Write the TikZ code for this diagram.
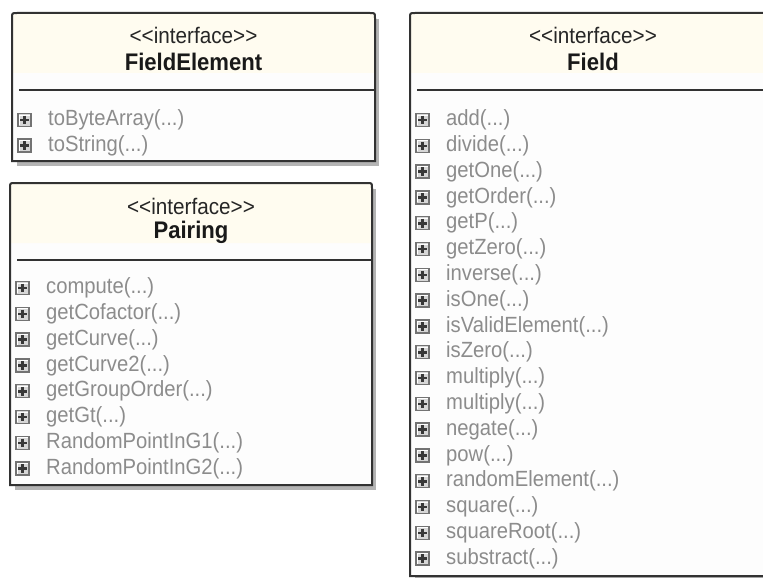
\documentclass[tikz,border=0pt]{standalone}
\usepackage{fontspec}
\newfontfamily\umlfont[FakeStretch=0.92]{Liberation Sans}
\definecolor{cream}{RGB}{255,252,240}
\definecolor{bodyw}{RGB}{253,253,253}
\definecolor{bline}{RGB}{50,50,50}
\definecolor{shadowc}{RGB}{180,180,180}
\definecolor{itemgray}{RGB}{140,140,140}
\definecolor{iconfill}{RGB}{214,214,214}
\definecolor{iconedge}{RGB}{115,115,115}
\tikzset{
  item/.style={anchor=west, inner sep=0pt, text=itemgray, font=\umlfont\fontsize{22}{26}\selectfont, text height=16pt, text depth=4.6pt},
  stereo/.style={inner sep=0pt, font=\umlfont\fontsize{22.5}{26}\selectfont, text=black!85},
  cname/.style={inner sep=0pt, font=\umlfont\fontsize{24}{28}\selectfont\bfseries, text=black!90},
  boxline/.style={draw=bline, line width=2pt},
  pics/plusbox/.style={code={
     \draw[iconedge, line width=1.5pt, fill=iconfill] (-6.5,-6.5) rectangle (6.5,6.5);
     \draw[white, line width=0.9pt] (-5,5) -- (-5,-5) -- (5,-5);
     \draw[black!78, line width=2.6pt] (-4.3,0) -- (4.3,0) (0,-4.3) -- (0,4.3);
  }},
}
\newcommand\umlframe[4]{%
  \fill[shadowc] (#1+5,#2+6) rectangle (#3+4,#4+5);
  \fill[bodyw] (#1,#4) -- (#1,#2+5) .. controls (#1,#2) .. (#1+5,#2) -- (#3-5,#2) .. controls (#3,#2) .. (#3,#2+5) -- (#3,#4) -- cycle;
  \fill[cream] (#1,#2+60) -- (#1,#2+5) .. controls (#1,#2) .. (#1+5,#2) -- (#3-5,#2) .. controls (#3,#2) .. (#3,#2+5) -- (#3,#2+60) -- cycle;
  \draw[boxline] (#1,#4) -- (#1,#2+5) .. controls (#1,#2) .. (#1+5,#2) -- (#3-5,#2) .. controls (#3,#2) .. (#3,#2+5) -- (#3,#4) -- cycle;
  \draw[boxline] (#1+7,#2+76.5) -- (#3,#2+76.5);
}
\newcommand\dotsargs{(...)}
\begin{document}
\begin{tikzpicture}[x=1pt,y=-1pt]
\useasboundingbox (0,0) rectangle (763,578);
\clip (0,0) rectangle (763,578);
\fill[white] (0,0) rectangle (763,578);

% FieldElement
\umlframe{12}{13}{375}{161}
\node[stereo] (feS) at (193.5,35.5) {<<interface>>};
\node[cname] (feN) at (193.5,62) {FieldElement};
\foreach \t [count=\i] in {toByteArray, toString} {
  \pic at (24.5,{120+25.6*(\i-1)}) {plusbox};
  \node[item] (fe\i) at (48,{120+25.6*(\i-1)}) {\t\dotsargs};
}

% Pairing
\umlframe{10}{183}{372}{485}
\node[stereo] (paS) at (191,206.5) {<<interface>>};
\node[cname] (paN) at (191,232) {Pairing};
\foreach \t [count=\i] in {compute, getCofactor, getCurve, getCurve2, getGroupOrder, getGt, RandomPointInG1, RandomPointInG2} {
  \pic at (22.5,{288+25.8*(\i-1)}) {plusbox};
  \node[item] (pa\i) at (46,{288+25.8*(\i-1)}) {\t\dotsargs};
}

% Field
\umlframe{410}{13}{776}{576}
\node[stereo] (fiS) at (593,35.5) {<<interface>>};
\node[cname] (fiN) at (593,62) {Field};
\foreach \t [count=\i] in {add, divide, getOne, getOrder, getP, getZero, inverse, isOne, isValidElement, isZero, multiply, multiply, negate, pow, randomElement, square, squareRoot, substract} {
  \pic at (422.5,{120+25.8*(\i-1)}) {plusbox};
  \node[item] (fi\i) at (446,{120+25.8*(\i-1)}) {\t\dotsargs};
}
\end{tikzpicture}
\end{document}
